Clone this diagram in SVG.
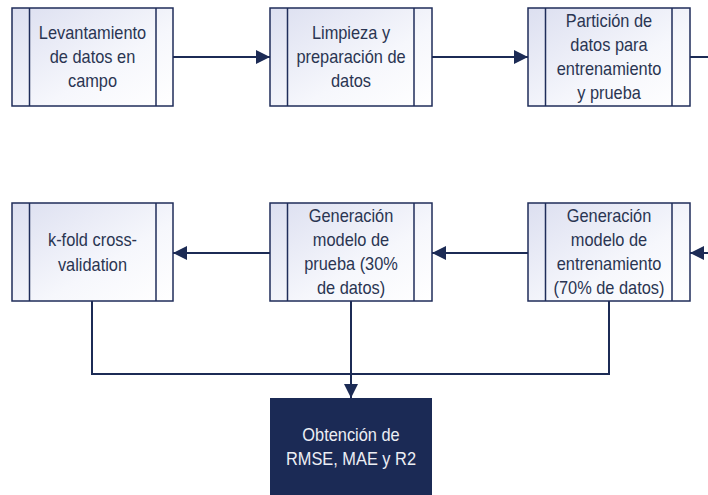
<svg xmlns="http://www.w3.org/2000/svg" width="708" height="495" viewBox="0 0 708 495">
<defs>
<linearGradient id="g" x1="0" y1="0" x2="1" y2="1">
<stop offset="0" stop-color="#dcdff0"/>
<stop offset="0.6" stop-color="#f6f7fc"/>
<stop offset="1" stop-color="#ffffff"/>
</linearGradient>
<marker id="ah" viewBox="0 0 14 14" refX="14" refY="7" markerWidth="14" markerHeight="14" markerUnits="userSpaceOnUse" orient="auto">
<path d="M0,0 L14,7 L0,14 Z" fill="#1c2b55"/>
</marker>
<style>
.box{fill:url(#g);stroke:#1f2d5a;stroke-width:1.5}
.bar{stroke:#1f2d5a;stroke-width:1.5}
.t{font-family:"Liberation Sans",Arial,sans-serif;font-size:18px;fill:#2a3552;text-anchor:middle}
.tw{font-family:"Liberation Sans",Arial,sans-serif;font-size:18px;fill:#eceef4;text-anchor:middle}
.c{stroke:#1c2b55;stroke-width:2;fill:none}
</style>
</defs>
<g id="connectors">
<line class="c" x1="173" y1="57" x2="270" y2="57" marker-end="url(#ah)"/>
<line class="c" x1="432" y1="57" x2="528" y2="57" marker-end="url(#ah)"/>
<line class="c" x1="690" y1="57" x2="708" y2="57"/>
<line class="c" x1="708" y1="253" x2="690" y2="253" marker-end="url(#ah)"/>
<line class="c" x1="528" y1="253" x2="432" y2="253" marker-end="url(#ah)"/>
<line class="c" x1="270" y1="253" x2="173" y2="253" marker-end="url(#ah)"/>
<polyline class="c" points="92,301 92,374 609,374 609,301"/>
<line class="c" x1="351" y1="301" x2="351" y2="398" marker-end="url(#ah)"/>
</g>
<g id="n1">
<rect class="box" x="12" y="8" width="161" height="98"/>
<line class="bar" x1="29.5" y1="8" x2="29.5" y2="106"/>
<line class="bar" x1="156" y1="8" x2="156" y2="106"/>
<g transform="translate(92.5 0) scale(0.91 1)">
<text class="t" x="0" y="39">Levantamiento</text>
<text class="t" x="0" y="63">de datos en</text>
<text class="t" x="0" y="87">campo</text>
</g>
</g>
<g id="n2">
<rect class="box" x="270" y="8" width="162" height="98"/>
<line class="bar" x1="287.5" y1="8" x2="287.5" y2="106"/>
<line class="bar" x1="414" y1="8" x2="414" y2="106"/>
<g transform="translate(351 0) scale(0.91 1)">
<text class="t" x="0" y="39">Limpieza y</text>
<text class="t" x="0" y="63">preparación de</text>
<text class="t" x="0" y="87">datos</text>
</g>
</g>
<g id="n3">
<rect class="box" x="528" y="8" width="162" height="98"/>
<line class="bar" x1="545.5" y1="8" x2="545.5" y2="106"/>
<line class="bar" x1="672" y1="8" x2="672" y2="106"/>
<g transform="translate(609 0) scale(0.91 1)">
<text class="t" x="0" y="27">Partición de</text>
<text class="t" x="0" y="51">datos para</text>
<text class="t" x="0" y="75">entrenamiento</text>
<text class="t" x="0" y="99">y prueba</text>
</g>
</g>
<g id="n4">
<rect class="box" x="12" y="203" width="161" height="98"/>
<line class="bar" x1="29.5" y1="203" x2="29.5" y2="301"/>
<line class="bar" x1="156" y1="203" x2="156" y2="301"/>
<g transform="translate(92.5 0) scale(0.91 1)">
<text class="t" x="0" y="246">k-fold cross-</text>
<text class="t" x="0" y="271">validation</text>
</g>
</g>
<g id="n5">
<rect class="box" x="270" y="203" width="162" height="98"/>
<line class="bar" x1="287.5" y1="203" x2="287.5" y2="301"/>
<line class="bar" x1="414" y1="203" x2="414" y2="301"/>
<g transform="translate(351 0) scale(0.91 1)">
<text class="t" x="0" y="222">Generación</text>
<text class="t" x="0" y="246">modelo de</text>
<text class="t" x="0" y="270">prueba (30%</text>
<text class="t" x="0" y="294">de datos)</text>
</g>
</g>
<g id="n6">
<rect class="box" x="528" y="203" width="162" height="98"/>
<line class="bar" x1="545.5" y1="203" x2="545.5" y2="301"/>
<line class="bar" x1="672" y1="203" x2="672" y2="301"/>
<g transform="translate(609 0) scale(0.91 1)">
<text class="t" x="0" y="222">Generación</text>
<text class="t" x="0" y="246">modelo de</text>
<text class="t" x="0" y="270">entrenamiento</text>
<text class="t" x="0" y="294">(70% de datos)</text>
</g>
</g>
<g id="n7">
<rect x="270" y="398" width="162" height="97" fill="#1b2a55"/>
<g transform="translate(351 0) scale(0.91 1)">
<text class="tw" x="0" y="441">Obtención de</text>
<text class="tw" x="0" y="465">RMSE, MAE y R2</text>
</g>
</g>
</svg>
